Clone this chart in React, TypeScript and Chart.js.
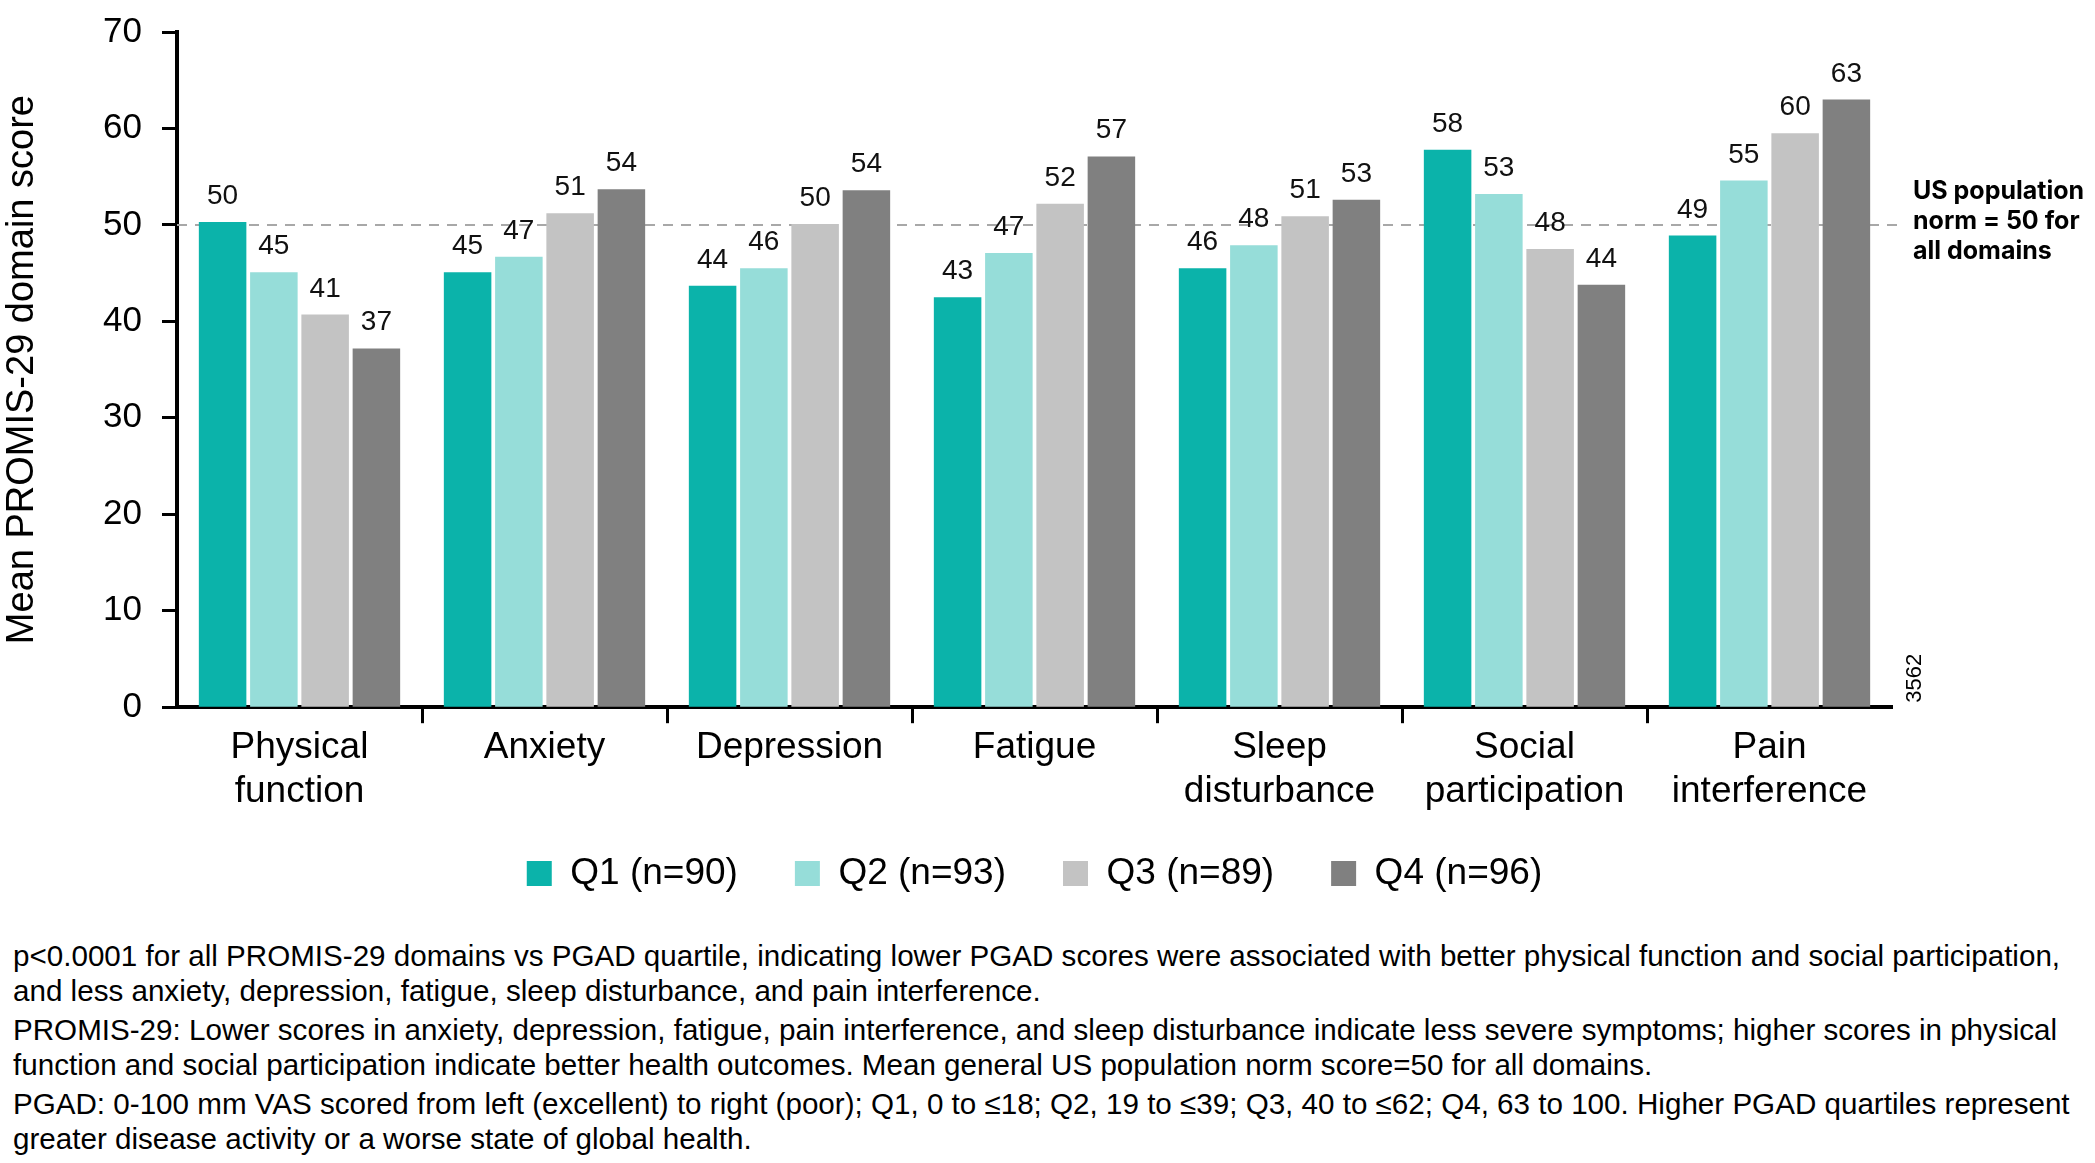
import React, { useEffect, useRef } from "react";
import { Chart, registerables } from "chart.js";

Chart.register(...registerables);

// ---------- data ----------
const categories: string[][] = [
  ["Physical", "function"],
  ["Anxiety"],
  ["Depression"],
  ["Fatigue"],
  ["Sleep", "disturbance"],
  ["Social", "participation"],
  ["Pain", "interference"],
];
const seriesNames = ["Q1 (n=90)", "Q2 (n=93)", "Q3 (n=89)", "Q4 (n=96)"];
const q1Values = [50.3, 45.1, 43.7, 42.5, 45.5, 57.8, 48.9];
const q2Values = [45.1, 46.7, 45.5, 47.1, 47.9, 53.2, 54.6];
const q3Values = [40.7, 51.2, 50.1, 52.2, 50.9, 47.5, 59.5];
const q4Values = [37.2, 53.7, 53.6, 57.1, 52.6, 43.8, 63.0];
const seriesColors = ["#0bb3aa", "#96ddd9", "#c3c3c3", "#808080"];
const yMin = 0;
const yMax = 70;
const yStep = 10;
const yTitle = "Mean PROMIS-29 domain score";
const normValue = 50;
const normLabel = ["US population", "norm = 50 for", "all domains"];
const codeLabel = "3562";
const footnotes: string[][] = [
  [
    "p<0.0001 for all PROMIS-29 domains vs PGAD quartile, indicating lower PGAD scores were associated with better physical function and social participation,",
    "and less anxiety, depression, fatigue, sleep disturbance, and pain interference.",
  ],
  [
    "PROMIS-29: Lower scores in anxiety, depression, fatigue, pain interference, and sleep disturbance indicate less severe symptoms; higher scores in physical",
    "function and social participation indicate better health outcomes. Mean general US population norm score=50 for all domains.",
  ],
  [
    "PGAD: 0-100 mm VAS scored from left (excellent) to right (poor); Q1, 0 to \u226418; Q2, 19 to \u226439; Q3, 40 to \u226462; Q4, 63 to 100. Higher PGAD quartiles represent",
    "greater disease activity or a worse state of global health.",
  ],
];

const FONT = "'Liberation Sans', Arial, Helvetica, sans-serif";

const customPlugin = {
  id: "customDecor",
  afterLayout(chart: any) {
    // lift the legend a little closer to the axis labels
    if (chart.legend) {
      chart.legend.top -= 18;
      chart.legend.bottom -= 18;
    }
  },
  beforeDatasetsDraw(chart: any) {
    const { ctx, chartArea, scales } = chart;
    const py = scales.y.getPixelForValue(normValue);
    ctx.save();
    ctx.strokeStyle = "#a8a8a8";
    ctx.lineWidth = 2;
    ctx.setLineDash([10, 8]);
    ctx.beginPath();
    ctx.moveTo(chartArea.left, py);
    ctx.lineTo(chartArea.right + 12, py);
    ctx.stroke();
    ctx.restore();
  },
  afterDatasetsDraw(chart: any) {
    const { ctx, chartArea, scales } = chart;
    ctx.save();
    ctx.fillStyle = "#111";
    ctx.font = `28px ${FONT}`;
    ctx.textAlign = "center";
    ctx.textBaseline = "alphabetic";
    chart.data.datasets.forEach((ds: any, di: number) => {
      const meta = chart.getDatasetMeta(di);
      meta.data.forEach((bar: any, i: number) => {
        const v = ds.data[i] as number;
        ctx.fillText(String(Math.round(v)), bar.x, bar.y - 18);
      });
    });
    // norm annotation
    const py = scales.y.getPixelForValue(normValue);
    ctx.fillStyle = "#000";
    ctx.font = `700 25px Inter, 'Open Sans', sans-serif`;
    ctx.textAlign = "left";
    ctx.textBaseline = "middle";
    normLabel.forEach((t, i) => {
      ctx.fillText(t, chartArea.right + 21, py - 33 + i * 30);
    });
    // code label
    ctx.font = `22px ${FONT}`;
    ctx.translate(chartArea.right + 23, chartArea.bottom - 29);
    ctx.rotate(-Math.PI / 2);
    ctx.textAlign = "center";
    ctx.fillText(codeLabel, 0, 0);
    ctx.restore();
  },
};

function ChartCanvas() {
  const ref = useRef<HTMLCanvasElement | null>(null);
  useEffect(() => {
    if (!ref.current) return;
    const allSeries = [q1Values, q2Values, q3Values, q4Values];
    const chart = new Chart(ref.current, {
      type: "bar",
      data: {
        labels: categories,
        datasets: allSeries.map((vals, i) => ({
          label: seriesNames[i],
          data: vals,
          backgroundColor: seriesColors[i],
          borderWidth: 0,
          categoryPercentage: 0.837,
          barPercentage: 0.927,
        })),
      },
      options: {
        animation: false,
        responsive: false,
        devicePixelRatio: 1,
        layout: { padding: { top: 32, right: 203, left: 0, bottom: 0 } },
        plugins: {
          legend: {
            position: "bottom",
            fullSize: false,
            labels: {
              boxWidth: 25,
              boxHeight: 25,
              padding: 57,
              color: "#000",
              font: { family: FONT, size: 37 },
            },
          },
          tooltip: { enabled: false },
        },
        scales: {
          x: {
            grid: {
              display: true,
              drawOnChartArea: false,
              drawTicks: true,
              tickLength: 16,
              tickWidth: 3,
              tickColor: (c: any) =>
                c.tick === undefined || c.index === 0 ? "rgba(0,0,0,0)" : "#000",
            },
            border: { display: true, color: "#000", width: 4 },
            ticks: {
              color: "#000",
              font: { family: FONT, size: 37, lineHeight: 1.2 },
              padding: 2,
              maxRotation: 0,
              autoSkip: false,
            },
          },
          y: {
            min: yMin,
            max: yMax,
            grid: {
              display: true,
              drawOnChartArea: false,
              drawTicks: true,
              tickLength: 15,
              tickWidth: 3,
              tickColor: "#000",
            },
            border: { display: true, color: "#000", width: 4 },
            ticks: {
              stepSize: yStep,
              color: "#000",
              font: { family: FONT, size: 35 },
              padding: 20,
            },
            title: {
              display: true,
              text: yTitle,
              color: "#000",
              font: { family: FONT, size: 38, lineHeight: 1.2 },
              padding: 0,
            },
            afterFit: (s: any) => {
              s.width = 177;
              s.paddingTop = 0;
              s.paddingBottom = 0;
            },
          },
        },
      },
      plugins: [customPlugin],
    });
    return () => chart.destroy();
  }, []);
  return <canvas ref={ref} width={2095} height={920} style={{ display: "block", width: 2095, height: 920 }} />;
}

export default function App() {
  return (
    <div style={{ position: "absolute", left: 0, top: 0, width: 2095, height: 1163, background: "#fff", overflow: "hidden" }}>
      <ChartCanvas />
      <div
        style={{
          position: "absolute",
          left: 13,
          top: 938,
          fontFamily: FONT,
          fontSize: 29.6,
          lineHeight: "35px",
          color: "#000",
          whiteSpace: "pre",
        }}
      >
        {footnotes.map((para, i) => (
          <div key={i} style={{ marginBottom: 4 }}>
            {para.map((line, j) => (
              <div key={j}>{line}</div>
            ))}
          </div>
        ))}
      </div>
    </div>
  );
}
